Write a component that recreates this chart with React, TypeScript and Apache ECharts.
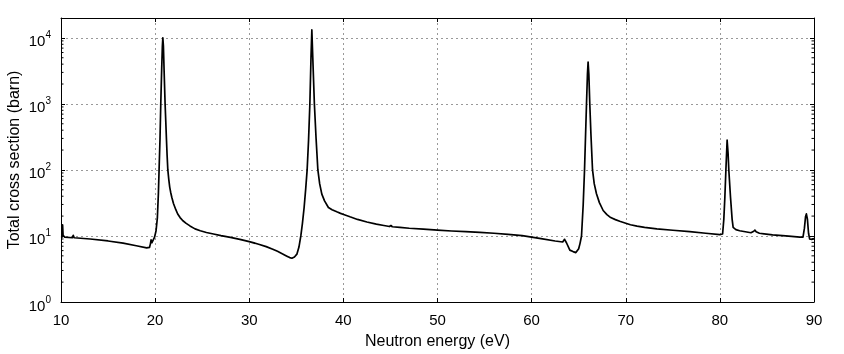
import React, { useEffect, useRef } from "react";
import * as echarts from "echarts";

// Neutron energy (eV)
const energy = [
  10.0, 10.1, 10.17, 10.22, 10.4, 11.2, 11.3, 11.4, 13.1, 15.0, 16.6, 18.0, 19.1, 19.4, 19.5, 19.57, 19.65, 19.75, 19.93,
  20.1, 20.24, 20.35, 20.42, 20.52, 20.6, 20.7, 20.77, 20.82, 20.88, 20.96, 21.06, 21.13, 21.2, 21.27, 21.35, 21.45, 21.55, 21.65, 21.77, 21.95,
  22.2, 22.4, 22.65, 22.95, 23.3, 23.7, 24.24, 24.8, 25.45, 26.2, 27.0, 28.0, 29.0, 30.0, 31.0, 31.8, 32.5, 33.0, 33.5, 34.0, 34.3, 34.53, 34.8,
  35.06, 35.28, 35.48, 35.65, 35.83, 36.0, 36.15, 36.3, 36.44, 36.56, 36.65, 36.75, 36.92, 37.1, 37.29, 37.48, 37.71, 38.0, 38.41, 38.8, 39.3, 39.7,
  40.1, 40.7, 41.5, 42.5, 43.5, 44.3, 44.9, 45.05, 45.2, 46, 47, 48.5, 50, 51.5, 53, 54.5, 56, 57.5, 59, 60, 61, 62.5, 63.3, 63.5, 63.7,
  64.06, 64.4, 64.7, 65.0, 65.15, 65.3, 65.48, 65.62, 65.83, 65.93, 66.0, 66.08, 66.18, 66.3, 66.47, 66.65, 66.89, 67.2, 67.6, 68.0, 68.4, 68.9, 69.36,
  70.0, 70.5, 71.2, 72, 73.3, 75, 76.8, 78.5, 80.0, 80.29, 80.42, 80.53, 80.64, 80.77, 80.87, 80.95, 81.13, 81.3, 81.41, 81.7, 82.1, 83.3, 83.6, 83.72, 83.85, 84.2,
  85.6, 87.0, 88.5, 88.83, 88.98, 89.1, 89.19, 89.3, 89.42, 89.54, 89.75, 90.0,
];
// Total cross section (barn)
const sigma = [
  9.5, 9.6, 14.7, 10.2, 9.6, 9.4, 10.2, 9.4, 9.0, 8.4, 7.8, 7.1, 6.6, 6.7, 7.6, 8.7, 7.9, 8.4, 9.5,
  12, 19, 45, 100, 300, 1000, 3500, 7500, 10000, 7500, 3000, 1000, 550, 300, 170, 100, 72, 55, 46, 38.6, 31,
  25, 21.5, 19, 17, 15.5, 14.2, 12.8, 12.0, 11.3, 10.7, 10.1, 9.5, 8.9, 8.2, 7.5, 6.9, 6.3, 5.85, 5.4, 4.95, 4.7, 4.6, 4.8,
  5.3, 6.8, 10, 15.5, 27, 52, 100, 280, 1000, 5000, 13200, 5000, 1000, 300, 100, 62, 43, 34, 27, 25, 23.2, 22,
  21, 19.5, 17.8, 16.3, 15.1, 14.4, 13.9, 14.4, 13.8, 13.5, 13.1, 12.7, 12.3, 11.9, 11.6, 11.3, 11.0, 10.6, 10.1, 9.6, 9.1, 8.4, 8.1, 8.9, 7.9,
  6.1, 5.8, 5.6, 6.4, 7.8, 10, 30, 100, 1000, 2800, 4300, 2800, 1000, 350, 100, 62, 43.5, 32, 24.3, 21, 19, 17.7, 16.7,
  15.6, 14.8, 14.1, 13.5, 12.8, 12.2, 11.6, 11.0, 10.5, 10.7, 18, 38.6, 100, 282, 180, 100, 38.6, 18, 13.5, 12.5, 12.0, 11.2, 11.8, 12.3, 11.6, 11.0,
  10.4, 10.0, 9.6, 9.6, 13, 19.5, 21.6, 18, 11, 9.0, 8.9, 9.1,
];
const xTicks = [10, 20, 30, 40, 50, 60, 70, 80, 90];
const yDecades = [0, 1, 2, 3, 4]; // exponents: 10^0 ... 10^4
const yMaxBarn = 20000;

const FONT = "Liberation Sans, Arial, Helvetica, sans-serif";

export default function App() {
  const ref = useRef<HTMLDivElement>(null);
  useEffect(() => {
    if (!ref.current) return;
    const chart = echarts.init(ref.current, undefined, { renderer: "svg" });
    const yMax = Math.log10(yMaxBarn);
    const minorVals: number[][] = [];
    yDecades.forEach((d) => {
      for (let k = 2; k <= 9; k++) {
        const v = d + Math.log10(k);
        if (v < yMax - 1e-6) minorVals.push([xTicks[0], v]);
      }
    });
    const grid = { left: 61, right: 30, top: 18, bottom: 52, containLabel: false, outerBoundsMode: "none" };
    const dotted = { show: true, lineStyle: { color: "#999", type: [2, 3] as any, width: 1 } };
    chart.setOption({
      animation: false,
      grid,
      xAxis: [
        {
          type: "value",
          min: xTicks[0],
          max: xTicks[xTicks.length - 1],
          interval: 10,
          name: "Neutron energy (eV)",
          nameLocation: "middle",
          nameGap: 30,
          nameMoveOverlap: false,
          nameTextStyle: { fontFamily: FONT, fontSize: 16, color: "#000" },
          axisLine: { show: true, onZero: false, lineStyle: { color: "#000", width: 1 } },
          axisTick: { show: true, inside: true, length: 4, lineStyle: { color: "#000" } },
          axisLabel: { fontFamily: FONT, fontSize: 15, color: "#000", margin: 10 },
          splitLine: dotted,
        },
        {
          type: "value",
          position: "top",
          min: xTicks[0],
          max: xTicks[xTicks.length - 1],
          interval: 10,
          axisLine: { show: true, onZero: false, lineStyle: { color: "#000", width: 1 } },
          axisTick: { show: true, inside: true, length: 4, lineStyle: { color: "#000" } },
          axisLabel: { show: false },
          splitLine: { show: false },
        },
      ],
      yAxis: [
        {
          type: "value",
          min: 0,
          max: yMax,
          interval: 1,
          name: "Total cross section (barn)",
          nameLocation: "middle",
          nameGap: 40,
          nameMoveOverlap: false,
          nameTextStyle: { fontFamily: FONT, fontSize: 16, color: "#000" },
          axisLine: { show: true, onZero: false, lineStyle: { color: "#000", width: 1 } },
          axisTick: { show: true, inside: true, length: 4, lineStyle: { color: "#000" } },
          axisLabel: {
            margin: 10,
            formatter: (v: number) =>
              Math.abs(v - Math.round(v)) < 1e-9 ? `{b|10}{s|${Math.round(v)}}` : "",
            rich: {
              b: { fontFamily: FONT, fontSize: 15, color: "#000", padding: [6, 0, 0, 0] },
              s: { fontFamily: FONT, fontSize: 10, color: "#000", padding: [0, 0, 6, 0] },
            },
          },
          splitLine: dotted,
        },
        {
          type: "value",
          position: "right",
          min: 0,
          max: yMax,
          interval: 1,
          axisLine: { show: true, onZero: false, lineStyle: { color: "#000", width: 1 } },
          axisTick: { show: true, inside: true, length: 4, lineStyle: { color: "#000" } },
          axisLabel: { show: false },
          splitLine: { show: false },
        },
      ],
      series: [
        {
          type: "line",
          xAxisIndex: 0,
          yAxisIndex: 0,
          data: energy.map((e, i) => [e, Math.log10(sigma[i])]),
          showSymbol: false,
          symbol: "none",
          smooth: false,
          lineStyle: { color: "#000", width: 1.7, join: "round" },
          clip: true,
          z: 5,
        },
        {
          type: "custom",
          xAxisIndex: 0,
          yAxisIndex: 0,
          data: minorVals,
          clip: false,
          z: 4,
          renderItem: (params: any, api: any) => {
            const v = api.value(1);
            const pL = api.coord([xTicks[0], v]);
            const pR = api.coord([xTicks[xTicks.length - 1], v]);
            return {
              type: "group",
              children: [
                { type: "line", shape: { x1: pL[0], y1: pL[1], x2: pL[0] + 2.5, y2: pL[1] }, style: { stroke: "#000", lineWidth: 1 } },
                { type: "line", shape: { x1: pR[0] - 2.5, y1: pR[1], x2: pR[0], y2: pR[1] }, style: { stroke: "#000", lineWidth: 1 } },
              ],
            };
          },
        },
      ],
    });
    return () => chart.dispose();
  }, []);
  return <div ref={ref} style={{ width: 844, height: 354, position: "fixed", left: 0, top: 0 }} />;
}
